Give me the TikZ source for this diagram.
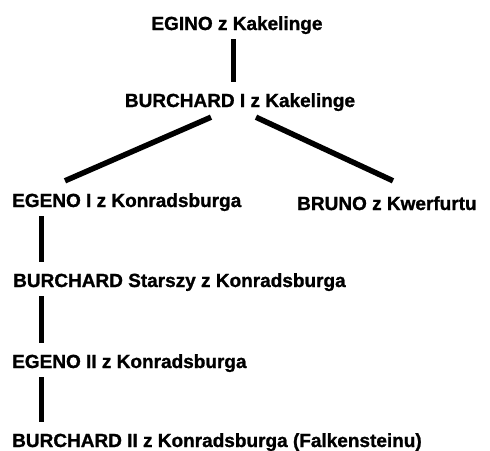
\documentclass[tikz,border=0pt]{standalone}
\usepackage{fontspec}
\setmainfont{Liberation Sans}[BoldFeatures={FakeBold=1.2}]

\begin{document}
\begin{tikzpicture}[x=1pt, y=-1pt]
				\tikzstyle{every node}=[inner sep=0pt, text height=13pt, text depth=4pt, font=\fontsize{19}{22}\selectfont\bfseries]
				\tikzstyle{link}=[line width=5pt, shorten <=5pt, shorten >=12pt]
				\tikzstyle{fork}=[line width=5.5pt]
				\useasboundingbox (0, 0) rectangle (490, 450);
				\node[anchor=base] (egino) at (237, 30) {EGINO z Kakelinge};
				\node[anchor=base] (burchardI) at (240, 107) {BURCHARD I z Kakelinge};
				\node[anchor=base west] (egenoI) at (12, 207) {EGENO I z Konradsburga};
				\node[anchor=base west] (bruno) at (297, 210) {BRUNO z Kwerfurtu};
				\node[anchor=base west] (starszy) at (13, 287) {BURCHARD Starszy z Konradsburga};
				\node[anchor=base west] (egenoII) at (12, 368) {EGENO II z Konradsburga};
				\node[anchor=base west] (burchardII) at (12, 447) {BURCHARD II z Konradsburga (Falkensteinu)};
				\draw [link] ([xshift=-4pt]egino.south) -- ([xshift=-7pt]burchardI.north);
				\draw [fork] ([xshift=-29pt, yshift=-6pt]burchardI.south) -- ([xshift=53pt, yshift=13pt]egenoI.north west);
				\draw [fork] ([xshift=16pt, yshift=-6pt]burchardI.south) -- ([xshift=96pt, yshift=16pt]bruno.north west);
				\draw [link] ([xshift=29pt]egenoI.south west) -- ([xshift=28pt]starszy.north west);
				\draw [link] ([xshift=28pt]starszy.south west) -- ([xshift=29pt]egenoII.north west);
				\draw [link] ([xshift=29pt]egenoII.south west) -- ([xshift=29pt]burchardII.north west);
		\end{tikzpicture}
\end{document}
